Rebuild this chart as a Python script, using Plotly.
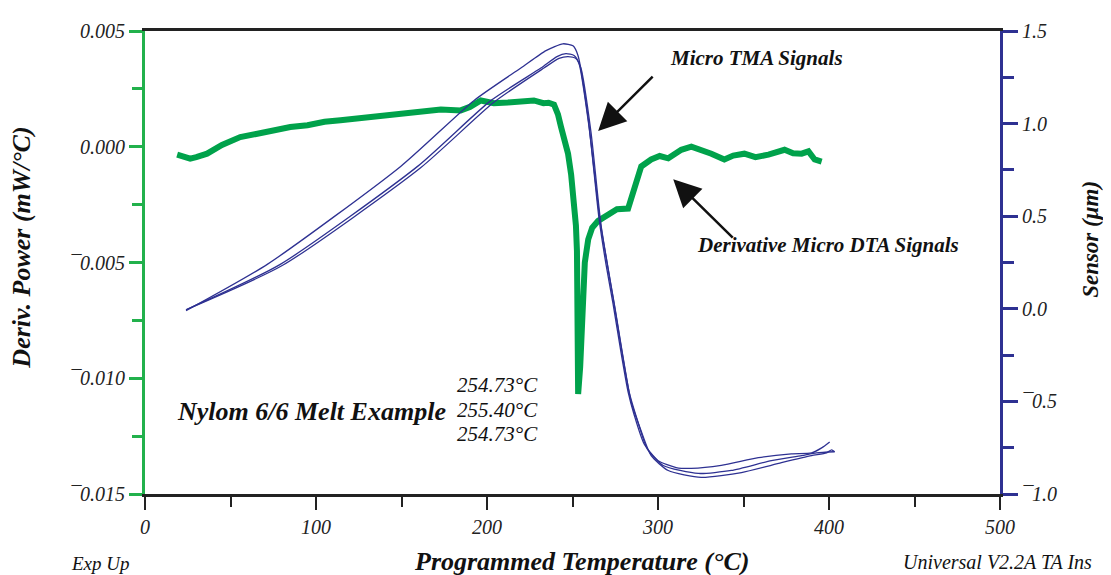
import plotly.graph_objects as go

# ---- Data ----
dta_temp = [18.8, 22.0, 26.4, 30.0, 36.3, 45.0, 55.7, 65.0, 75.0, 85.0, 95.0, 105.0, 114.3, 124.0,
            133.6, 143.0, 153.6, 163.0, 173.0, 184.6, 190.0, 196.4, 204.0, 212.2, 220.0,
            227.4, 233.0, 236.0, 239.2, 241.5, 243.3, 245.5, 247.4, 249.2, 250.9, 252.0, 252.6, 253.0, 253.3,
            254.5, 255.8, 257.2, 259.2, 261.5, 265.0, 270.0, 276.0, 282.5, 286.0, 290.2, 296.0,
            301.0, 306.0, 313.6, 319.5, 325.0, 331.2, 338.8, 344.0, 350.5, 357.0, 364.6, 369.0, 374.0,
            379.0, 384.0, 388.0, 391.6, 395.7]
dta_val = [-0.00034, -0.00042, -0.00051, -0.00045, -0.00030, 0.00008, 0.00042, 0.00055, 0.00072, 0.00085,
           0.00093, 0.00108, 0.00114, 0.00122, 0.00127, 0.00138, 0.00148, 0.00152, 0.00161, 0.00157,
           0.00172, 0.00200, 0.00188, 0.00191, 0.00196, 0.00200, 0.00188, 0.00190, 0.00182, 0.00140,
           0.00085, 0.00030, -0.00030, -0.00120, -0.00225, -0.00340, -0.00450, -0.00750, -0.01068,
           -0.00950, -0.00680, -0.00500, -0.00400, -0.00350, -0.00320, -0.00300, -0.00270, -0.00267,
           -0.00182, -0.00085, -0.00055, -0.00040, -0.00050, -0.00013, 0.00000, -0.00012, -0.00030,
           -0.00055, -0.00038, -0.00030, -0.00045, -0.00034, -0.00022, -0.00013, -0.00028, -0.00030,
           -0.00020, -0.00055, -0.00064]

tma_a_temp = [24.0, 71.5, 149.5, 192.3, 219.8, 234.5, 244.4, 250.3, 253.2, 259.1, 265.5, 269.6, 273.7,
              278.4, 282.5, 286.0, 291.9, 300.1, 310.6, 319.5, 337.0, 358.7, 378.0, 389.8, 395.7, 400.4]
tma_a_val = [-0.01, 0.24, 0.769, 1.124, 1.30, 1.394, 1.431, 1.42, 1.368, 1.034, 0.488, 0.24, 0.028,
             -0.237, -0.449, -0.571, -0.73, -0.82, -0.857, -0.862, -0.846, -0.804, -0.783, -0.778,
             -0.751, -0.719]

tma_b_temp = [24.0, 79.1, 159.4, 202.2, 231.5, 240.9, 246.2, 250.9, 253.8, 259.7, 266.1, 274.3, 283.1,
              287.8, 293.7, 303.0, 323.6, 342.9, 366.3, 384.0, 392.7, 403.3]
tma_b_val = [-0.005, 0.24, 0.769, 1.124, 1.30, 1.362, 1.378, 1.368, 1.325, 0.98, 0.478, 0.028, -0.449,
             -0.597, -0.756, -0.846, -0.889, -0.873, -0.82, -0.793, -0.778, -0.772]

tma_c_temp = [24.0, 80.5, 161.0, 204.0, 233.3, 242.1, 247.4, 252.0, 254.9, 260.8, 266.7, 274.9, 284.3,
              290.2, 296.0, 306.0, 325.3, 348.8, 372.2, 389.8, 398.6, 401.5, 403.3]
tma_c_val = [-0.005, 0.235, 0.76, 1.115, 1.30, 1.352, 1.362, 1.352, 1.30, 0.954, 0.451, 0.001, -0.502,
             -0.661, -0.793, -0.873, -0.91, -0.884, -0.831, -0.793, -0.778, -0.762, -0.772]

left_ticks = [-0.015, -0.010, -0.005, 0.000, 0.005]
left_labels = ["¯0.015", "¯0.010", "¯0.005", "0.000", "0.005"]
right_ticks = [-1.0, -0.5, 0.0, 0.5, 1.0, 1.5]
right_labels = ["¯1.0", "¯0.5", "0.0", "0.5", "1.0", "1.5"]
x_ticks = [0, 100, 200, 300, 400, 500]
peak_labels = ["254.73°C", "255.40°C", "254.73°C"]

GREEN = "#00A24B"
GREEN_AX = "#22B14C"
BLUE = "#2E3192"
FONT = "Liberation Serif"

fig = go.Figure()
fig.add_trace(go.Scatter(x=dta_temp, y=dta_val, mode="lines",
                         line=dict(color=GREEN, width=6), yaxis="y", showlegend=False))
for tx, ty in [(tma_a_temp, tma_a_val), (tma_b_temp, tma_b_val), (tma_c_temp, tma_c_val)]:
    fig.add_trace(go.Scatter(x=tx, y=ty, mode="lines",
                             line=dict(color=BLUE, width=1.3, shape="spline", smoothing=0.6),
                             yaxis="y2", showlegend=False))

tickfont = dict(family=FONT, size=20, color="#222", style="italic")

fig.update_layout(
    width=1111, height=575,
    margin=dict(l=137, r=119, t=14, b=89),
    plot_bgcolor="white", paper_bgcolor="white",
    xaxis=dict(range=[0, 500], tickmode="array", tickvals=x_ticks, ticktext=[str(v) for v in x_ticks],
               ticks="outside", ticklen=13, tickwidth=2, tickcolor="#222",
               minor=dict(tickmode="linear", tick0=0, dtick=50, ticks="outside", ticklen=10,
                          tickwidth=2, tickcolor="#222"),
               showline=True, linecolor="#222", linewidth=2.5, mirror=True,
               showgrid=False, zeroline=False, tickfont=tickfont),
    yaxis=dict(range=[-0.015, 0.005], tickmode="array", tickvals=left_ticks, ticktext=left_labels,
               ticks="outside", ticklen=13, tickwidth=3, tickcolor=GREEN_AX,
               minor=dict(tickmode="linear", tick0=0, dtick=0.0025, ticks="outside", ticklen=10,
                          tickwidth=3, tickcolor=GREEN_AX),
               showline=True, linecolor=GREEN_AX, linewidth=3,
               showgrid=False, zeroline=False, tickfont=tickfont),
    yaxis2=dict(range=[-1.0, 1.5], overlaying="y", side="right", tickmode="array",
                tickvals=right_ticks, ticktext=right_labels,
                ticks="outside", ticklen=15, tickwidth=3, tickcolor=BLUE,
                minor=dict(tickmode="linear", tick0=0, dtick=0.25, ticks="outside", ticklen=11,
                           tickwidth=3, tickcolor=BLUE),
                showline=True, linecolor=BLUE, linewidth=3,
                showgrid=False, zeroline=False, tickfont=tickfont),
)

bi = dict(family=FONT, color="#111", weight="bold", style="italic")
it = dict(family=FONT, color="#111", style="italic")


def txt(text, x, y, size, font, xanchor="center", angle=0):
    return dict(text=text, x=x, y=y, xref="paper", yref="paper", xanchor=xanchor, yanchor="middle",
                textangle=angle, showarrow=False, font=dict(size=size, **font))


ann = [
    txt("Deriv. Power (mW/°C)", -0.1439, 0.532, 26, bi, angle=-90),
    txt("Sensor (μm)", 1.1065, 0.549, 23, bi, angle=-90),
    txt("Programmed Temperature (°C)", 0.511, -0.146, 26, bi),
    txt("Exp Up", -0.0526, -0.150, 19, it),
    txt("Universal V2.2A TA Ins", 0.884, -0.146, 20, it, xanchor="left"),
    txt("Micro TMA Signals", 0.6117, 0.9407, 21, bi, xanchor="left"),
    txt("Derivative Micro DTA Signals", 0.6433, 0.5381, 21, bi, xanchor="left"),
    txt("Nylom 6/6 Melt Example", 0.0351, 0.178, 26, bi, xanchor="left"),
]
for lbl, yy in zip(peak_labels, [0.2352, 0.1822, 0.1292]):
    ann.append(txt(lbl, 0.462, yy, 21, it, xanchor="right"))
# arrows
ann.append(dict(text="", x=265.0, y=0.00068, xref="x", yref="y", ax=56, ay=-56,
                showarrow=True, arrowhead=2, arrowsize=2.2, arrowwidth=2.5, arrowcolor="#111", standoff=0))
ann.append(dict(text="", x=308.9, y=-0.0014, xref="x", yref="y", ax=61, ay=60,
                showarrow=True, arrowhead=2, arrowsize=2.2, arrowwidth=2.5, arrowcolor="#111", standoff=0))
fig.update_layout(annotations=ann)

fig.write_html("out.html")
